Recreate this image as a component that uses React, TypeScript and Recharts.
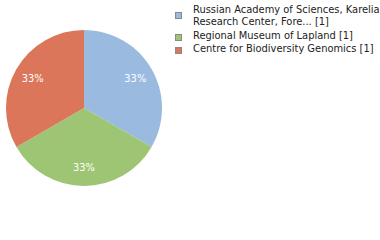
import React from 'react';
import { PieChart, Pie, Cell } from 'recharts';

const names = [
  'Russian Academy of Sciences, Karelian\nResearch Center, Fore... [1]',
  'Regional Museum of Lapland [1]',
  'Centre for Biodiversity Genomics [1]',
];
const values = [1, 1, 1];
const colors = ['#9BBAE0', '#9DC574', '#DB765A'];

const data = names.map((name, i) => ({ name, value: values[i] }));

const FONT = '"DejaVu Sans Condensed", "DejaVu Sans", sans-serif';
const RAD = Math.PI / 180;

const renderLabel = (props: any) => {
  const { cx, cy, midAngle, outerRadius, percent } = props;
  const r = outerRadius * 0.76;
  const x = cx + r * Math.cos(-midAngle * RAD);
  const y = cy + r * Math.sin(-midAngle * RAD);
  return (
    <text
      x={x}
      y={y}
      fill="#ffffff"
      fontFamily={FONT}
      fontSize={11}
      textAnchor="middle"
      dominantBaseline="central"
    >
      {`${Math.round(percent * 100)}%`}
    </text>
  );
};

function LegendBox() {
  return (
    <div
      style={{
        position: 'absolute',
        left: 175,
        top: 4.3,
        width: 205,
        fontFamily: FONT,
        fontSize: 11,
        color: '#222',
        lineHeight: '12px',
      }}
    >
      {data.map((d, i) => {
        const lines = d.name.split('\n').length;
        return (
          <div key={i} style={{ display: 'flex', alignItems: 'flex-start', marginBottom: 1.5 }}>
            <div
              style={{
                width: 5,
                height: 5,
                marginTop: (lines - 1) * 3.5 + 4,
                background: colors[i],
                border: '1px solid #8a8a8a',
                flexShrink: 0,
              }}
            />
            <div style={{ marginLeft: 11, whiteSpace: 'pre' }}>{d.name}</div>
          </div>
        );
      })}
    </div>
  );
}

export default function App() {
  return (
    <div style={{ position: 'absolute', left: 0, top: 0, width: 380, height: 240, background: '#fff', overflow: 'hidden' }}>
      <PieChart width={380} height={240} margin={{ top: 0, right: 0, bottom: 0, left: 0 }}>
        <Pie
          data={data}
          dataKey="value"
          nameKey="name"
          cx={84}
          cy={108}
          outerRadius={78}
          startAngle={90}
          endAngle={-270}
          stroke="none"
          label={renderLabel}
          labelLine={false}
          isAnimationActive={false}
        >
          {data.map((_, i) => (
            <Cell key={i} fill={colors[i]} />
          ))}
        </Pie>
      </PieChart>
      <LegendBox />
    </div>
  );
}
